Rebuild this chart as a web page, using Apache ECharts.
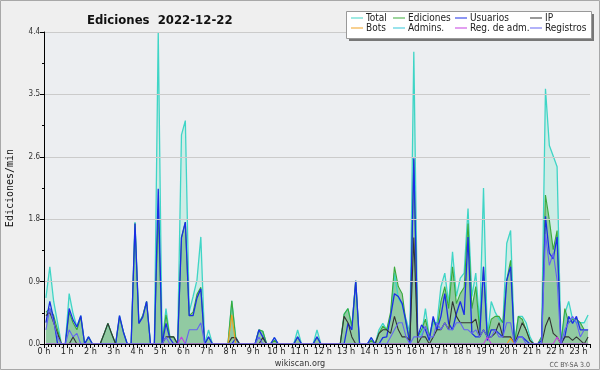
<!DOCTYPE html>
<html>
<head>
<meta charset="utf-8">
<script src="https://cdn.jsdelivr.net/npm/echarts@6/dist/echarts.min.js"></script>
<style>
html, body { margin: 0; padding: 0; background: #efefef; }
#chart { width: 600px; height: 370px; }
</style>
</head>
<body>
<div id="chart"></div>
<script>
// one value every 10 minutes, edits per minute
var total = [
    0.65, 1.09, 0.6, 0.3, 0, 0,
    0.71, 0.43, 0.24, 0.4, 0, 0.1,
    0, 0, 0, 0.14, 0.29, 0.14,
    0, 0.4, 0.17, 0, 0, 1.72,
    0.3, 0.4, 0.6, 0, 0, 4.4,
    0, 0.5, 0.1, 0.1, 0, 2.95,
    3.15, 0.45, 0.67, 0.9, 1.51, 0,
    0.2, 0, 0, 0, 0, 0,
    0.61, 0.1, 0, 0, 0, 0,
    0, 0.2, 0.18, 0, 0, 0.09,
    0, 0, 0, 0, 0, 0.2,
    0, 0, 0, 0, 0.2, 0,
    0, 0, 0, 0, 0, 0.42,
    0.5, 0.25, 0.89, 0, 0, 0,
    0.09, 0, 0.2, 0.29, 0.2, 0.39,
    1.0, 0.65, 0.55, 0.35, 0.15, 4.12,
    0.15, 0.13, 0.5, 0.1, 0.3, 0.3,
    0.81, 1.0, 0.57, 1.3, 0.67, 0.93,
    1.0, 1.91, 0.67, 1.0, 0.29, 2.2,
    0.1, 0.6, 0.45, 0.35, 0.3, 1.42,
    1.6, 0, 0.39, 0.39, 0.3, 0.1,
    0, 0, 0.1, 3.6, 2.8, 2.65,
    2.5, 0, 0.43, 0.6, 0.35, 0.3,
    0.3, 0.3, 0.41
];
var ediciones = [
    0.45, 0.5, 0.4, 0.2, 0, 0,
    0.45, 0.3, 0.2, 0.38, 0, 0.1,
    0, 0, 0, 0.14, 0.29, 0.14,
    0, 0.38, 0.17, 0, 0, 1.7,
    0.29, 0.4, 0.6, 0, 0, 1.9,
    0, 0.41, 0.1, 0.1, 0, 1.5,
    1.72, 0.4, 0.45, 0.7, 0.8, 0,
    0.1, 0, 0, 0, 0, 0,
    0.61, 0.08, 0, 0, 0, 0,
    0, 0.2, 0.18, 0, 0, 0.05,
    0, 0, 0, 0, 0, 0.1,
    0, 0, 0, 0, 0.1, 0,
    0, 0, 0, 0, 0, 0.42,
    0.5, 0.25, 0.89, 0, 0, 0,
    0.05, 0, 0.15, 0.25, 0.2, 0.45,
    1.09, 0.81, 0.71, 0.3, 0.05, 2.6,
    0.1, 0.2, 0.35, 0.1, 0.35, 0.2,
    0.6, 0.81, 0.5, 1.09, 0.57, 0.71,
    0.8, 1.7, 0.5, 0.81, 0.2, 1.09,
    0.1, 0.35, 0.39, 0.39, 0.3, 0.9,
    1.18, 0, 0.39, 0.35, 0.2, 0.05,
    0, 0, 0.1, 2.1, 1.75, 1.33,
    1.6, 0, 0.5, 0.3, 0.35, 0.35,
    0.3, 0.2, 0.2
];
var usuarios = [
    0.3, 0.6, 0.35, 0, 0, 0,
    0.5, 0.34, 0.24, 0.4, 0, 0.1,
    0, 0, 0, 0, 0, 0,
    0, 0.4, 0.17, 0, 0, 1.7,
    0.29, 0.38, 0.6, 0, 0, 2.19,
    0, 0.29, 0.08, 0, 0, 1.5,
    1.72, 0.4, 0.4, 0.65, 0.78, 0,
    0.1, 0, 0, 0, 0, 0,
    0, 0.08, 0, 0, 0, 0,
    0, 0.2, 0.1, 0, 0, 0.09,
    0, 0, 0, 0, 0, 0.1,
    0, 0, 0, 0, 0.1, 0,
    0, 0, 0, 0, 0, 0,
    0.29, 0.2, 0.89, 0, 0, 0,
    0.09, 0, 0, 0.09, 0.1, 0.39,
    0.71, 0.67, 0.57, 0.3, 0, 2.62,
    0.1, 0.27, 0.2, 0.05, 0.39, 0.2,
    0.39, 0.71, 0.29, 0.2, 0.43, 0.6,
    0.41, 1.51, 0.15, 0.1, 0.1, 1.09,
    0.05, 0.2, 0.2, 0.15, 0.1, 0.9,
    1.09, 0, 0.1, 0.1, 0.05, 0,
    0, 0, 0.05, 1.8, 1.28, 1.2,
    1.51, 0, 0.1, 0.39, 0.29, 0.39,
    0.2, 0.2, 0.2
];
var ip = [
    0.4, 0.45, 0.3, 0.15, 0, 0,
    0, 0.1, 0, 0, 0, 0,
    0, 0, 0, 0.14, 0.29, 0.14,
    0, 0, 0, 0, 0, 0,
    0, 0, 0, 0, 0, 0,
    0, 0.1, 0.1, 0.1, 0, 0,
    0, 0, 0, 0, 0, 0,
    0, 0, 0, 0, 0, 0,
    0.09, 0.09, 0, 0, 0, 0,
    0, 0, 0.09, 0, 0, 0,
    0, 0, 0, 0, 0, 0,
    0, 0, 0, 0, 0, 0,
    0, 0, 0, 0, 0, 0.39,
    0.3, 0.1, 0, 0, 0, 0,
    0, 0, 0.15, 0.2, 0.2, 0.15,
    0.39, 0.2, 0.1, 0.1, 0.05, 1.5,
    0, 0.1, 0.1, 0, 0.1, 0.2,
    0.2, 0.3, 0.2, 0.6, 0.39, 0.3,
    0.3, 0.3, 0.3, 0.35, 0.1, 0.2,
    0.1, 0.1, 0.15, 0.3, 0.1, 0.1,
    0.1, 0, 0.15, 0.3, 0.2, 0.05,
    0, 0, 0, 0.25, 0.38, 0.15,
    0.1, 0, 0.1, 0.1, 0.05, 0.1,
    0.05, 0, 0.1
];
var bots = [
    0, 0, 0, 0, 0, 0,  0, 0, 0, 0, 0, 0,  0, 0, 0, 0, 0, 0,  0, 0, 0, 0, 0, 0,
    0, 0, 0, 0, 0, 0,  0, 0, 0, 0, 0, 0,  0, 0, 0, 0, 0, 0,  0, 0, 0, 0, 0, 0,
    0.41, 0, 0, 0, 0, 0,  0, 0, 0, 0, 0, 0,  0, 0, 0, 0, 0, 0,  0, 0, 0, 0, 0, 0,
    0, 0, 0, 0, 0, 0,  0, 0, 0, 0, 0, 0,  0, 0, 0, 0, 0, 0,  0, 0, 0, 0, 0, 0,
    0, 0, 0, 0, 0, 0,  0, 0, 0, 0, 0, 0,  0, 0, 0, 0, 0, 0,  0, 0, 0, 0, 0, 0,
    0.08, 0, 0, 0, 0, 0,  0, 0, 0, 0, 0, 0,  0, 0, 0, 0, 0, 0,  0, 0, 0
];
var admins = [
    0, 0, 0, 0, 0, 0,  0, 0, 0, 0, 0, 0,  0, 0, 0, 0, 0, 0,  0, 0, 0, 0, 0, 0,
    0, 0, 0, 0, 0, 0,  0, 0, 0, 0, 0, 0,  0, 0, 0, 0, 0, 0,  0, 0, 0, 0, 0, 0,
    0, 0, 0, 0, 0, 0,  0, 0, 0, 0, 0, 0,  0, 0, 0, 0, 0, 0,  0, 0, 0, 0, 0, 0,
    0, 0, 0, 0, 0, 0,  0, 0, 0, 0, 0, 0,  0, 0, 0, 0, 0, 0,  0, 0, 0, 0, 0, 0,
    0, 0, 0, 0, 0, 0,  0, 0, 0, 0, 0, 0,  0, 0, 0, 0, 0, 0,  0, 0, 0, 0, 0, 0,
    0, 0, 0, 0, 0, 0,  0, 0, 0, 0, 0, 0,  0, 0, 0, 0, 0, 0,  0, 0, 0
];
var regAdm = [
    0, 0, 0, 0, 0, 0,  0, 0, 0, 0, 0, 0,  0, 0, 0, 0, 0, 0,  0, 0, 0, 0, 0, 0,
    0, 0, 0, 0, 0, 0,  0, 0, 0, 0, 0, 0.1,  0, 0, 0, 0, 0, 0,  0, 0, 0, 0, 0, 0,
    0, 0, 0, 0, 0, 0,  0, 0, 0, 0, 0, 0,  0, 0, 0, 0, 0, 0,  0, 0, 0, 0, 0, 0,
    0, 0, 0, 0, 0, 0,  0, 0, 0, 0, 0, 0,  0, 0, 0, 0, 0, 0,  0, 0, 0, 0, 0, 0,
    0, 0, 0, 0, 0, 0,  0, 0, 0, 0, 0, 0,  0, 0, 0, 0, 0, 0,  0.1, 0, 0, 0, 0, 0,
    0, 0, 0, 0, 0, 0,  0, 0, 0, 0, 0, 0,  0.1, 0, 0, 0, 0, 0,  0, 0, 0
];
var registros = [
    0.2, 0.5, 0.3, 0.1, 0, 0,
    0.2, 0.1, 0.15, 0, 0, 0,
    0, 0, 0, 0, 0, 0,
    0, 0, 0, 0, 0, 0,
    0, 0, 0, 0, 0, 0,
    0, 0.1, 0, 0, 0, 0,
    0, 0.2, 0.2, 0.2, 0.3, 0,
    0, 0, 0, 0, 0, 0,
    0, 0, 0, 0, 0, 0,
    0, 0.1, 0, 0, 0, 0,
    0, 0, 0, 0, 0, 0,
    0, 0, 0, 0, 0, 0,
    0, 0, 0, 0, 0, 0,
    0, 0, 0, 0, 0, 0,
    0, 0, 0, 0, 0, 0.1,
    0.2, 0.3, 0.3, 0.1, 0, 0.1,
    0.1, 0.1, 0.25, 0.1, 0.1, 0.3,
    0.2, 0.3, 0.2, 0.2, 0.3, 0.3,
    0.2, 0.2, 0.15, 0.2, 0.1, 0.2,
    0.1, 0.1, 0.2, 0.1, 0.1, 0.3,
    0.3, 0, 0.1, 0.1, 0, 0,
    0, 0, 0, 1.55, 1.11, 1.28,
    0.9, 0, 0.2, 0.3, 0.39, 0.3,
    0.1, 0.2, 0.2
];
var hourLabels = ['0 h', '1 h', '2 h', '3 h', '4 h', '5 h', '6 h', '7 h', '8 h', '9 h', '10 h', '11 h',
    '12 h', '13 h', '14 h', '15 h', '16 h', '17 h', '18 h', '19 h', '20 h', '21 h', '22 h', '23 h'];
var yTicks = ['0.0', '0.9', '1.8', '2.6', '3.5', '4.4'];

var cond = "'DejaVu Sans Condensed', 'DejaVu Sans', sans-serif";

// points sit in the middle of each 10 minute slot
function pairs(values) {
    return values.map(function (v, i) { return [(i + 0.5) / 6, v]; });
}

function serie(name, values, color, width, fill) {
    var s = {
        name: name,
        type: 'line',
        data: pairs(values),
        symbol: 'none',
        smooth: false,
        animation: false,
        lineStyle: { color: color, width: width },
        itemStyle: { color: color }
    };
    if (fill) s.areaStyle = { color: fill, opacity: 1 };
    return s;
}

var chart = echarts.init(document.getElementById('chart'), null, { renderer: 'canvas' });

var legendBase = {
    orient: 'vertical',
    top: 13,
    padding: 0,
    itemGap: 0,
    itemWidth: 12,
    itemHeight: 1,
    icon: 'rect',
    z: 20,
    selectedMode: false,
    textStyle: { fontFamily: cond, fontSize: 10, color: '#222', padding: [0, 0, 0, -2], lineHeight: 10 }
};
function legendCol(left, names) {
    return Object.assign({}, legendBase, { left: left, data: names });
}

var option = {
    backgroundColor: '#efefef',
    title: [
        { text: 'Ediciones  2022-12-22', left: 82, top: 9,
          textStyle: { fontFamily: cond, fontSize: 13, fontWeight: 'bold', color: '#111' } },
        { text: 'wikiscan.org', left: 'center', top: 354,
          textStyle: { fontFamily: cond, fontSize: 9, fontWeight: 'normal', color: '#333' } },
        { text: 'CC BY-SA 3.0', right: 5, top: 357,
          textStyle: { fontFamily: cond, fontSize: 7, fontWeight: 'normal', color: '#555' } }
    ],
    legend: [
        legendCol(351, ['Total', 'Bots']),
        legendCol(393, ['Ediciones', 'Admins.']),
        legendCol(455, ['Usuarios', 'Reg. de adm.']),
        legendCol(530, ['IP', 'Registros'])
    ],
    graphic: [
        { type: 'rect', shape: { x: 0.5, y: 0.5, width: 599, height: 369 },
          style: { fill: 'none', stroke: '#a8a8a8', lineWidth: 1 }, z: 30, silent: true },
        { type: 'rect', shape: { x: 349, y: 14, width: 245, height: 27 },
          style: { fill: '#777' }, z: 10, silent: true },
        { type: 'rect', shape: { x: 346.5, y: 11.5, width: 245, height: 27 },
          style: { fill: '#fff', stroke: '#999', lineWidth: 1 }, z: 11, silent: true }
    ],
    grid: {
        left: 44, right: 10, top: 32, bottom: 26,
        outerBoundsMode: 'none',
        show: true, backgroundColor: '#eceef1', borderWidth: 0
    },
    xAxis: {
        type: 'value', min: 0, max: 23.5, interval: 1, z: 5,
        axisLine: { lineStyle: { color: '#000', width: 1 } },
        axisTick: { show: true, length: 4, lineStyle: { color: '#000' } },
        minorTick: { show: true, splitNumber: 6, length: 3, lineStyle: { color: '#000' } },
        splitLine: { show: false },
        axisLabel: {
            fontFamily: cond, fontSize: 9, color: '#222', margin: 3, showMaxLabel: false,
            formatter: function (v) { return v % 1 === 0 && hourLabels[v] ? hourLabels[v] : ''; }
        }
    },
    yAxis: {
        type: 'value', min: 0, max: 4.4, interval: 0.88, z: 5,
        name: 'Ediciones/min', nameLocation: 'middle', nameGap: 29, nameRotate: 90,
        nameTextStyle: { fontFamily: 'DejaVu Sans Mono', fontSize: 10, color: '#111' },
        axisLine: { show: true, lineStyle: { color: '#000', width: 1 } },
        axisTick: { show: true, length: 4, lineStyle: { color: '#000' } },
        minorTick: { show: true, splitNumber: 2, length: 2, lineStyle: { color: '#000' } },
        splitLine: { show: true, lineStyle: { color: '#cbcbcb', width: 1 } },
        axisLabel: {
            fontFamily: cond, fontSize: 8, color: '#333', margin: 4,
            formatter: function (v) { return yTicks[Math.round(v / 0.88)]; }
        }
    },
    series: [
        serie('Total', total, '#3fd5c6', 1.3, 'rgba(170, 232, 218, 0.45)'),
        serie('Ediciones', ediciones, '#3aaa3a', 1.1, 'rgba(95, 175, 105, 0.55)'),
        serie('Usuarios', usuarios, '#1b2de6', 1.3, null),
        serie('IP', ip, '#333333', 1.1, null),
        serie('Bots', bots, '#f0a020', 1.1, null),
        serie('Admins.', admins, '#33c6d9', 1.1, null),
        serie('Reg. de adm.', regAdm, '#c43fe0', 1.1, null),
        serie('Registros', registros, '#6464f2', 1.1, null)
    ]
};

chart.setOption(option);
</script>
</body>
</html>
